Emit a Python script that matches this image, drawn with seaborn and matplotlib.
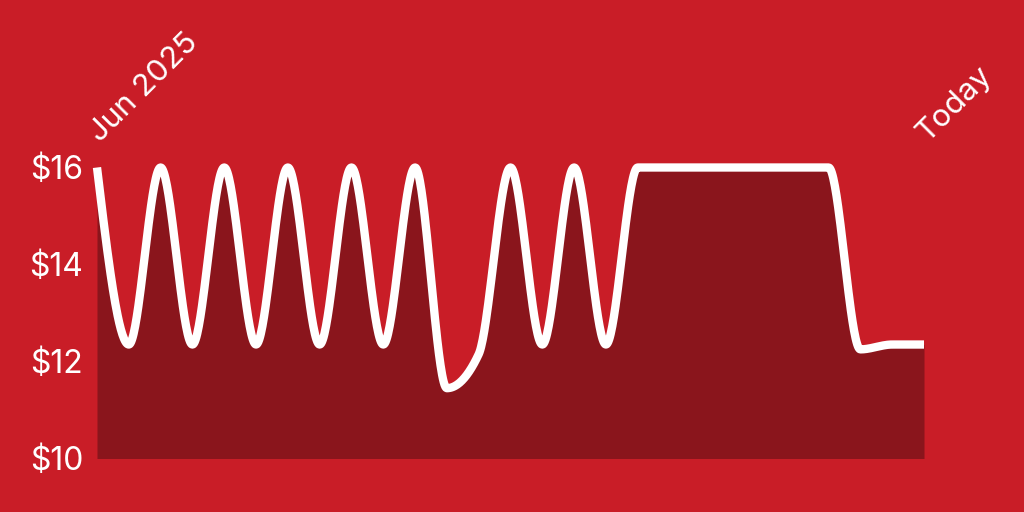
import numpy as np
import pandas as pd
import matplotlib
matplotlib.use("Agg")
import matplotlib.pyplot as plt
import seaborn as sns

# price points, one per step from Jun 2025 to today
prices = [16, 12.35, 16, 12.35, 16, 12.35, 16, 12.35, 16, 12.35, 16, 11.45,
          12.15, 16, 12.35, 16, 12.35, 16, 16, 16, 16, 16, 16, 16,
          12.25, 12.35, 12.35]
steps = list(range(len(prices)))
end_labels = ["Jun 2025", "Today"]
y_ticks = [10, 12, 14, 16]
y_labels = ["$10", "$12", "$14", "$16"]

BG = "#C91D27"
FILL = "#8A151C"


def monotone_curve(x, y, n=40):
    # monotone cubic (same idea as d3 curveMonotoneX) for drawing the smooth line
    x = np.asarray(x, float)
    y = np.asarray(y, float)
    h = np.diff(x)
    s = np.diff(y) / h
    t = np.zeros_like(y)
    for i in range(1, len(y) - 1):
        p = (s[i - 1] * h[i] + s[i] * h[i - 1]) / (h[i - 1] + h[i])
        t[i] = (np.sign(s[i - 1]) + np.sign(s[i])) * min(abs(s[i - 1]), abs(s[i]), 0.5 * abs(p))
    t[0] = (3 * s[0] - t[1]) / 2
    t[-1] = (3 * s[-1] - t[-2]) / 2
    xs, ys = [], []
    for i in range(len(h)):
        u = np.linspace(0, 1, n, endpoint=(i == len(h) - 1))
        h00 = 2 * u**3 - 3 * u**2 + 1
        h10 = u**3 - 2 * u**2 + u
        h01 = -2 * u**3 + 3 * u**2
        h11 = u**3 - u**2
        xs.append(x[i] + u * h[i])
        ys.append(h00 * y[i] + h10 * h[i] * t[i] + h01 * y[i + 1] + h11 * h[i] * t[i + 1])
    return np.concatenate(xs), np.concatenate(ys)


cx, cy = monotone_curve(steps, prices)
curve = pd.DataFrame({"step": cx, "price": cy})

sns.set_style("white")
plt.rcParams["font.family"] = ["Inter", "DejaVu Sans"]

fig = plt.figure(figsize=(10.24, 5.12), dpi=100, facecolor=BG)
ax = fig.add_axes([97 / 1024, 53.5 / 512, 827 / 1024, 291 / 512])
ax.set_facecolor(BG)

ax.fill_between(curve["step"], 10, curve["price"], color=FILL, linewidth=0, zorder=1)
sns.lineplot(data=curve, x="step", y="price", ax=ax, color="white", linewidth=6,
             solid_capstyle="butt", solid_joinstyle="round", clip_on=False, zorder=3,
             sort=False, estimator=None)

ax.set_xlim(steps[0], steps[-1])
ax.set_ylim(10, 16)
ax.set_yticks(y_ticks)
ax.set_yticklabels(y_labels)
ax.tick_params(axis="y", length=0, pad=10, labelsize=23, labelcolor="white")
ax.set_xticks([])
ax.set_xlabel("")
ax.set_ylabel("")
for sp in ax.spines.values():
    sp.set_visible(False)

for xpos, lab in zip([steps[0], steps[-1]], end_labels):
    ax.annotate(lab, xy=(xpos, 1), xycoords=("data", "axes fraction"),
                xytext=(2, 17.5), textcoords="offset points",
                rotation=45, rotation_mode="anchor", ha="left", va="baseline",
                color="white", fontsize=22.5, annotation_clip=False)

fig.savefig("out.png", dpi=100, facecolor=BG)
